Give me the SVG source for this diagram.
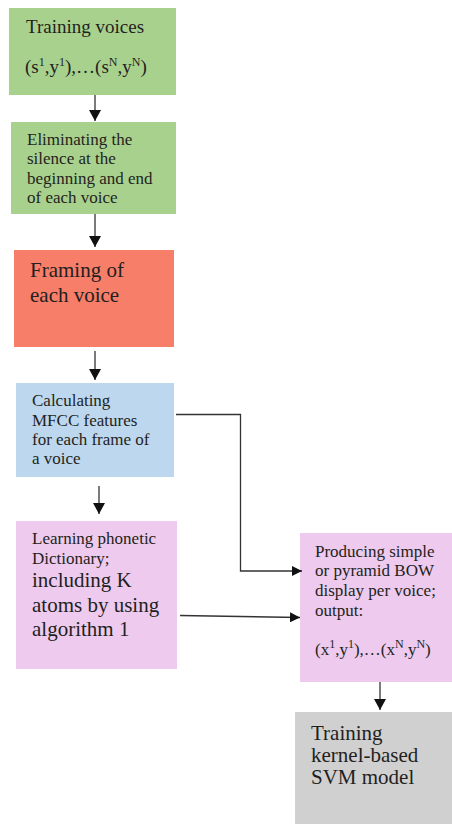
<svg xmlns="http://www.w3.org/2000/svg" width="452" height="824" viewBox="0 0 452 824">
<defs>
<style>
text{font-family:"Liberation Serif","Times New Roman",serif;fill:#231f20}
.s{font-size:17px}
.l{font-size:21px}
.m{font-size:19px}
.sup{font-size:12px}
.c{stroke:#333;stroke-width:1.3;fill:none}
</style>
<marker id="ah" viewBox="0 0 10 10" refX="10" refY="5" markerWidth="10" markerHeight="10" markerUnits="userSpaceOnUse" orient="auto">
<path d="M0,0 L10,5 L0,10 Z" fill="#111"/>
</marker>
<marker id="av" viewBox="0 0 10 10" refX="10" refY="5" markerWidth="11" markerHeight="12" markerUnits="userSpaceOnUse" orient="auto" preserveAspectRatio="none">
<path d="M0,0 L10,5 L0,10 Z" fill="#111"/>
</marker>
</defs>
<rect width="452" height="824" fill="#fff"/>
<g id="n1">
<rect x="9" y="8" width="167" height="87" fill="#a9d18e"/>
<text class="m" x="26" y="33">Training voices</text>
<text class="m" x="25" y="73">(s<tspan class="sup" dy="-7">1</tspan><tspan dy="7">,y</tspan><tspan class="sup" dy="-7">1</tspan><tspan dy="7">),…(s</tspan><tspan class="sup" dy="-7">N</tspan><tspan dy="7">,y</tspan><tspan class="sup" dy="-7">N</tspan><tspan dy="7">)</tspan></text>
</g>
<g id="n2">
<rect x="11" y="122" width="165" height="92" fill="#a9d18e"/>
<text class="s" x="27" y="145">Eliminating the</text>
<text class="s" x="27" y="164.3">silence at the</text>
<text class="s" x="27" y="183.7">beginning and end</text>
<text class="s" x="27" y="203">of each voice</text>
</g>
<g id="n3">
<rect x="14" y="250" width="160" height="97" fill="#f77e69"/>
<text class="l" x="30" y="277">Framing of</text>
<text class="l" x="30" y="302">each voice</text>
</g>
<g id="n4">
<rect x="16" y="383" width="158" height="94" fill="#bdd7ee"/>
<text class="s" x="32" y="406">Calculating</text>
<text class="s" x="32" y="426">MFCC features</text>
<text class="s" x="32" y="445">for each frame of</text>
<text class="s" x="32" y="464">a voice</text>
</g>
<g id="n5">
<rect x="16" y="521" width="161" height="148" fill="#eecbee"/>
<text class="s" x="32" y="544">Learning phonetic</text>
<text class="s" x="32" y="564">Dictionary;</text>
<text class="l" x="32" y="587">including K</text>
<text class="l" x="32" y="612">atoms by using</text>
<text class="l" x="32" y="636">algorithm 1</text>
</g>
<g id="n6">
<rect x="300" y="533" width="152" height="149" fill="#eecbee"/>
<text class="s" x="315" y="557">Producing simple</text>
<text class="s" x="315" y="576">or pyramid BOW</text>
<text class="s" x="315" y="596">display per voice;</text>
<text class="s" x="315" y="616">output:</text>
<text class="s" x="315" y="655">(x<tspan class="sup" dy="-7">1</tspan><tspan dy="7">,y</tspan><tspan class="sup" dy="-7">1</tspan><tspan dy="7">),…(x</tspan><tspan class="sup" dy="-7">N</tspan><tspan dy="7">,y</tspan><tspan class="sup" dy="-7">N</tspan><tspan dy="7">)</tspan></text>
</g>
<g id="n7">
<rect x="295" y="712" width="157" height="112" fill="#d0d0d0"/>
<text class="l" x="311" y="740">Training</text>
<text class="l" x="311" y="762">kernel-based</text>
<text class="l" x="311" y="784">SVM model</text>
</g>
<g id="connectors">
<path class="c" d="M95,95 V121" marker-end="url(#av)"/>
<path class="c" d="M95,214 V247" marker-end="url(#av)"/>
<path class="c" d="M95,351 V380" marker-end="url(#av)"/>
<path class="c" d="M99,486 V514" marker-end="url(#av)"/>
<path class="c" d="M176,414.5 H240.5 V571 H302" marker-end="url(#ah)"/>
<path class="c" d="M180,615.5 L300,617.5" marker-end="url(#ah)"/>
<path class="c" d="M380,682 V710" marker-end="url(#av)"/>
</g>
</svg>
